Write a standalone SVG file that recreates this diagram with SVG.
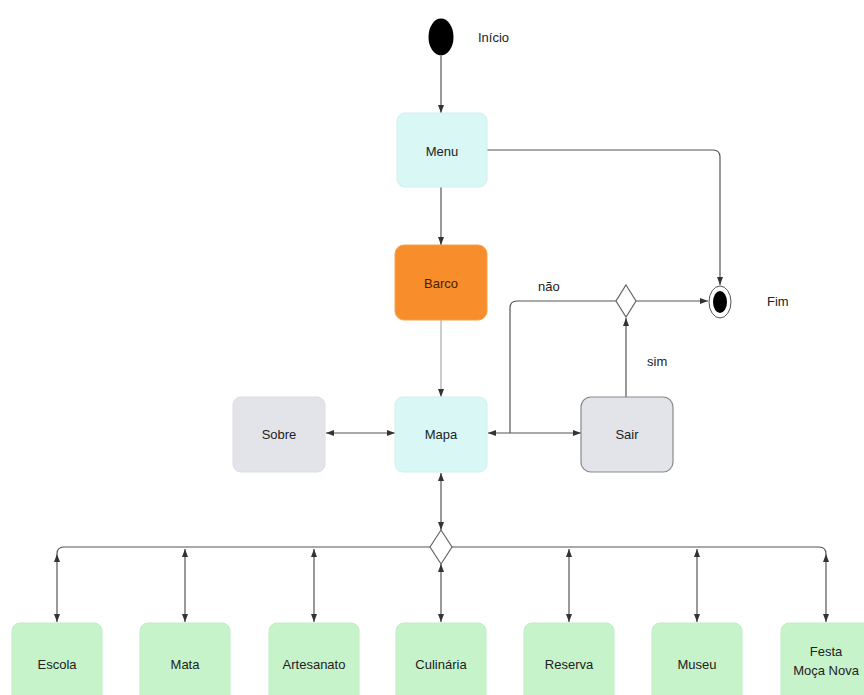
<svg xmlns="http://www.w3.org/2000/svg" width="864" height="695" viewBox="0 0 864 695">
<style>
  text { font-family: "Liberation Sans", Arial, sans-serif; font-size: 13px; fill: #222; }
  .lbl { text-anchor: middle; dominant-baseline: central; }
  .cyan { fill: #d9f7f5; stroke: #d0f0ee; }
  .gray { fill: #e3e4ea; stroke: #dcdde3; }
  .green { fill: #c6f3ca; stroke: #bfeec3; }
  .conn path { fill: none; stroke: #555; stroke-width: 1.2; }
  .both { marker-start: url(#arr); marker-end: url(#arr); }
  .end { marker-end: url(#arr); }
</style>
<defs>
  <marker id="arr" viewBox="0 0 8 6" refX="8" refY="3" markerWidth="8" markerHeight="6" markerUnits="userSpaceOnUse" orient="auto-start-reverse">
    <path d="M0,0 L8,3 L0,6 z" fill="#333"/>
  </marker>
</defs>
<rect width="864" height="695" fill="#fff"/>

<g class="conn">
  <path class="end" d="M441,56 V113"/>
  <path class="end" d="M441,187 V245"/>
  <path class="end" d="M441,320 V397" style="stroke:#aaa"/>
  <path class="end" d="M487,150 H713 Q720,150 720,157 V285"/>
  <path class="both" d="M326,433 H395"/>
  <path class="both" d="M488,433 H581"/>
  <path d="M510,433 V308 Q510,301 517,301 H616"/>
  <path class="end" d="M626,397 V318"/>
  <path class="end" d="M636,301 H708"/>
  <path class="both" d="M441,473 V530"/>
  <path d="M430,547 H64 Q57,547 57,554"/>
  <path d="M452,547 H819 Q826,547 826,554"/>
  <path class="both" d="M57,554 V622"/>
  <path class="both" d="M185,549 V622"/>
  <path class="both" d="M314,549 V622"/>
  <path class="both" d="M441,564 V622"/>
  <path class="both" d="M569,549 V622"/>
  <path class="both" d="M697,549 V622"/>
  <path class="both" d="M826,554 V622"/>
</g>

<g id="inicio">
  <ellipse cx="441" cy="37" rx="12.5" ry="18.5" fill="#000"/>
  <text x="478" y="42">Início</text>
</g>
<g id="menu">
  <rect class="cyan" x="397" y="113" width="90" height="74" rx="8"/>
  <text class="lbl" x="442" y="151">Menu</text>
</g>
<g id="barco">
  <rect x="395" y="245" width="92" height="75" rx="9" fill="#f78d2b" stroke="#f9a04a"/>
  <text class="lbl" x="441" y="283" style="fill:#4a2200">Barco</text>
</g>
<g id="decisao-sair">
  <polygon points="626,285 636,301 626,317 616,301" fill="#fff" stroke="#666" stroke-width="1.2"/>
  <text x="538" y="291">não</text>
  <text x="647" y="366">sim</text>
</g>
<g id="fim">
  <ellipse cx="720" cy="302" rx="11" ry="16" fill="#fff" stroke="#555" stroke-width="1"/>
  <ellipse cx="720" cy="302" rx="7" ry="11" fill="#000"/>
  <text x="767" y="306">Fim</text>
</g>
<g id="sobre">
  <rect class="gray" x="233" y="397" width="92" height="75" rx="8"/>
  <text class="lbl" x="279" y="434">Sobre</text>
</g>
<g id="mapa">
  <rect class="cyan" x="395" y="397" width="92" height="75" rx="8"/>
  <text class="lbl" x="441" y="434">Mapa</text>
</g>
<g id="sair">
  <rect x="581" y="397" width="92" height="75" rx="10" fill="#e3e4ea" stroke="#8a8a8a" stroke-width="1.2"/>
  <text class="lbl" x="627" y="434">Sair</text>
</g>
<g id="decisao-mapa">
  <polygon points="441,530 452,547 441,564 430,547" fill="#fff" stroke="#666" stroke-width="1.2"/>
</g>
<g id="escola">
  <rect class="green" x="12" y="623" width="90" height="82" rx="8"/>
  <text class="lbl" x="57" y="664">Escola</text>
</g>
<g id="mata">
  <rect class="green" x="140" y="623" width="90" height="82" rx="8"/>
  <text class="lbl" x="185" y="664">Mata</text>
</g>
<g id="artesanato">
  <rect class="green" x="269" y="623" width="90" height="82" rx="8"/>
  <text class="lbl" x="314" y="664">Artesanato</text>
</g>
<g id="culinaria">
  <rect class="green" x="396" y="623" width="90" height="82" rx="8"/>
  <text class="lbl" x="441" y="664">Culinária</text>
</g>
<g id="reserva">
  <rect class="green" x="524" y="623" width="90" height="82" rx="8"/>
  <text class="lbl" x="569" y="664">Reserva</text>
</g>
<g id="museu">
  <rect class="green" x="652" y="623" width="90" height="82" rx="8"/>
  <text class="lbl" x="697" y="664">Museu</text>
</g>
<g id="festa">
  <rect class="green" x="781" y="623" width="90" height="82" rx="8"/>
  <text class="lbl" x="826" y="651">Festa</text>
  <text class="lbl" x="826" y="670">Moça Nova</text>
</g>
</svg>
